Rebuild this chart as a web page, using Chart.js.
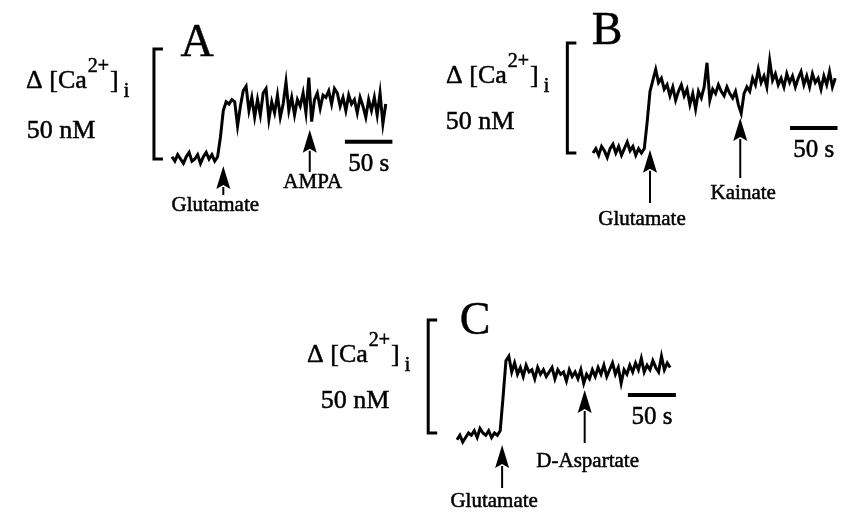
<!DOCTYPE html>
<html>
<head>
<meta charset="utf-8">
<script src="https://cdn.jsdelivr.net/npm/chart.js@4.4.1/dist/chart.umd.min.js"></script>
<style>
  html, body { margin: 0; padding: 0; background: #fff; }
  #wrap { position: relative; width: 841px; height: 512px; }
</style>
</head>
<body>
<div id="wrap"><canvas id="traces" width="841" height="512"></canvas></div>
<script>
// sampling interval of the traces, seconds
const sampleStep = 3;

// change in [Ca2+]i (nM)
const valuesA = [1, -1, 2, 0, -2, 1, 3, -1, 0, 2, -2, 1, 3, 0, 2, -1, 1,
  10, 22, 26, 25, 27, 26, 15, 24, 31, 33, 22, 28, 19, 27, 20, 30, 32, 18, 26, 21, 29, 19, 25,
  35, 22, 28, 20, 27, 24, 30, 21, 37, 17, 27, 30, 23, 29, 28, 31, 25, 32, 30, 24, 28, 22,
  29, 25, 27, 21, 28, 24, 19, 27, 22, 28, 20, 30, 16, 25];

const valuesB = [0, 2, -1, 3, 1, -2, 2, 4, 0, 3, -1, 2, 5, 1, 3, -1, 2, 0, 2,
  14, 28, 33, 38, 32, 34, 29, 31, 26, 30, 24, 28, 31, 26, 29, 22, 27, 20, 28, 25, 30,
  41, 24, 29, 27, 31, 28, 26, 30, 27, 25, 28, 22, 18, 27, 30, 28, 34, 31, 38, 32,
  35, 30, 42, 33, 36, 31, 34, 30, 36, 32, 35, 30, 34, 37, 31, 35, 30, 36, 32, 34,
  29, 35, 31, 37, 30, 34];

const valuesC = [-3, -1, -4, -2, 0, -1, 1, -2, 2, 0, -1, 1, -2, 0, -1, 1,
  16, 32, 34, 27, 31, 26, 29, 25, 30, 27, 28, 24, 29, 26, 28, 25, 27, 29, 24, 28,
  26, 27, 23, 28, 25, 27, 24, 28, 22, 26, 24, 28, 25, 29, 26, 30, 25, 28, 31, 26,
  29, 22, 28, 26, 30, 27, 31, 28, 33, 27, 30, 28, 32, 29, 27, 34, 28, 31, 29];

const timesA = valuesA.map((_, i) => i * sampleStep);
const timesB = valuesB.map((_, i) => i * sampleStep);
const timesC = valuesC.map((_, i) => i * sampleStep);

// agonist additions (s) and where the arrow tip sits (nM)
const stimuliA = [{ label: 'Glutamate', t: 54, tip: -3.2 }, { label: 'AMPA', t: 145, tip: 13.3 }];
const stimuliB = [{ label: 'Glutamate', t: 60, tip: 1.5 }, { label: 'Kainate', t: 155, tip: 15.9 }];
const stimuliC = [{ label: 'Glutamate', t: 47, tip: -5.3 }, { label: 'D-Aspartate', t: 133, tip: 19 }];

const W = 841, H = 512;

// layout of each panel: pixel origin of (0 s, 0 nM) and pixels per unit
const panels = [
  { id: 'A', values: valuesA, times: timesA, stimuli: stimuliA,
    x0: 172, y0: 159, sx: 0.95, sy: 2.2,
    bracketT: -19, barT: 182, barV: 7.8,
    letter: [197, 40], caLabel: [26, 88], nmLabel: [61, 138],
    arrowEnd: [195, 172], labelBase: [211, 188] },
  { id: 'B', values: valuesB, times: timesB, stimuli: stimuliB,
    x0: 593, y0: 153, sx: 0.95, sy: 2.2,
    bracketT: -27, barT: 207.4, barV: 11.4,
    letter: [607, 28], caLabel: [446, 83], nmLabel: [480, 129],
    arrowEnd: [203, 178], labelBase: [225, 199] },
  { id: 'C', values: valuesC, times: timesC, stimuli: stimuliC,
    x0: 457, y0: 433, sx: 0.96, sy: 2.26,
    bracketT: -30, barT: 178, barV: 16.8,
    letter: [475, 318], caLabel: [307, 362], nmLabel: [355, 408],
    arrowEnd: [488, 443], labelBase: [507, 467] }
];

const serif = '"Liberation Serif", "DejaVu Serif", serif';

const scales = {};
panels.forEach(p => {
  scales['x' + p.id] = { type: 'linear', display: false, min: -p.x0 / p.sx, max: (W - p.x0) / p.sx };
  scales['y' + p.id] = { type: 'linear', display: false, min: (p.y0 - H) / p.sy, max: p.y0 / p.sy };
});

// filled text with a thin outline, the print is a little heavy
function text(ctx, str, x, y) {
  ctx.fillText(str, x, y);
  ctx.lineWidth = 0.5;
  ctx.strokeText(str, x, y);
}

function drawArrow(ctx, x, tipY, endY) {
  const headLen = 23, headW = 7;
  ctx.beginPath();
  ctx.moveTo(x, tipY + headLen - 2);
  ctx.lineTo(x, endY);
  ctx.lineWidth = 2;
  ctx.stroke();
  ctx.beginPath();
  ctx.moveTo(x, tipY);
  ctx.lineTo(x + headW, tipY + headLen);
  ctx.lineTo(x, tipY + headLen - 4);
  ctx.lineTo(x - headW, tipY + headLen);
  ctx.closePath();
  ctx.fill();
}

function drawCaLabel(ctx, x, y) {
  ctx.textAlign = 'left';
  ctx.font = '26px ' + serif;
  text(ctx, '\u0394 [Ca', x, y);
  let cx = x + ctx.measureText('\u0394 [Ca').width + 1;
  ctx.font = '20px ' + serif;
  text(ctx, '2+', cx, y - 16);
  cx += ctx.measureText('2+').width + 1;
  ctx.font = '26px ' + serif;
  text(ctx, ']', cx, y);
  cx += ctx.measureText(']').width + 5;
  ctx.font = '20px ' + serif;
  text(ctx, 'i', cx, y + 9);
}

const annotations = {
  id: 'annotations',
  afterDatasetsDraw(chart) {
    const ctx = chart.ctx;
    ctx.save();
    ctx.fillStyle = '#000';
    ctx.strokeStyle = '#000';
    panels.forEach(p => {
      const xs = chart.scales['x' + p.id];
      const ys = chart.scales['y' + p.id];

      // 50 nM bracket
      const bx = xs.getPixelForValue(p.bracketT);
      const b0 = ys.getPixelForValue(0), b1 = ys.getPixelForValue(50);
      ctx.lineWidth = 3;
      ctx.beginPath();
      ctx.moveTo(bx + 9, b1);
      ctx.lineTo(bx, b1);
      ctx.lineTo(bx, b0);
      ctx.lineTo(bx + 9, b0);
      ctx.stroke();

      // 50 s scale bar
      const s0 = xs.getPixelForValue(p.barT), s1 = xs.getPixelForValue(p.barT + 50);
      const sy = ys.getPixelForValue(p.barV);
      ctx.lineWidth = 4;
      ctx.beginPath();
      ctx.moveTo(s0, sy);
      ctx.lineTo(s1, sy);
      ctx.stroke();
      ctx.font = '25px ' + serif;
      ctx.textAlign = 'center';
      text(ctx, '50 s', (s0 + s1) / 2, sy + 29);

      // stimulus arrows
      p.stimuli.forEach((s, i) => {
        const ax = xs.getPixelForValue(s.t);
        const tip = ys.getPixelForValue(s.tip);
        drawArrow(ctx, ax, tip, p.arrowEnd[i]);
        ctx.font = '21px ' + serif;
        ctx.textAlign = 'center';
        text(ctx, s.label, ax - (i === 0 ? 8 : -3), p.labelBase[i]);
      });

      // panel letter and axis captions
      ctx.font = '46px ' + serif;
      ctx.textAlign = 'center';
      text(ctx, p.id, p.letter[0], p.letter[1] + 16);
      drawCaLabel(ctx, p.caLabel[0], p.caLabel[1]);
      ctx.font = '26px ' + serif;
      ctx.textAlign = 'center';
      text(ctx, '50 nM', p.nmLabel[0], p.nmLabel[1]);
    });
    ctx.restore();
  }
};

new Chart(document.getElementById('traces'), {
  type: 'line',
  data: {
    datasets: panels.map(p => ({
      label: 'Panel ' + p.id,
      data: p.values.map((v, i) => ({ x: p.times[i], y: v })),
      xAxisID: 'x' + p.id,
      yAxisID: 'y' + p.id,
      borderColor: '#000',
      borderWidth: 3,
      pointRadius: 0,
      tension: 0,
      fill: false
    }))
  },
  options: {
    responsive: false,
    animation: false,
    layout: { padding: 0 },
    plugins: { legend: { display: false }, tooltip: { enabled: false } },
    scales: scales
  },
  plugins: [annotations]
});
</script>
</body>
</html>
